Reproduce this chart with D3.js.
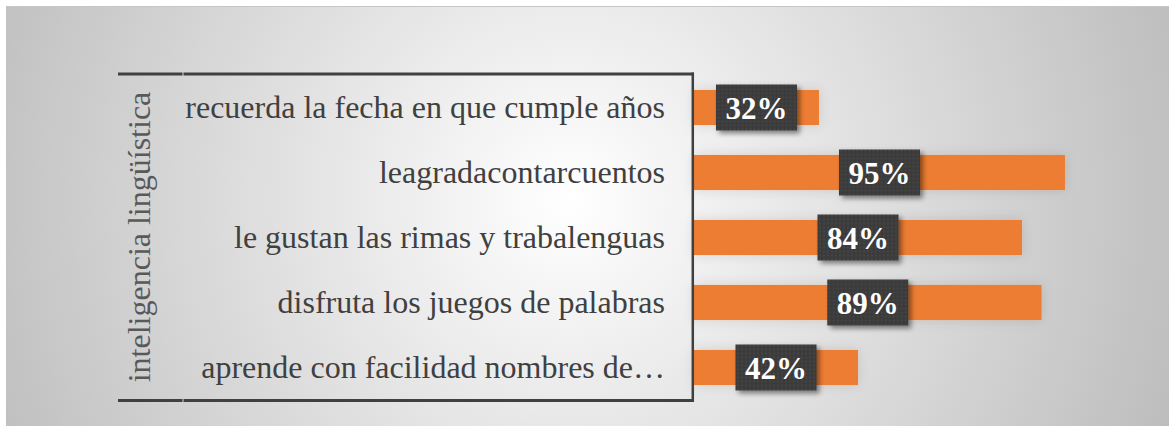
<!DOCTYPE html>
<html>
<head>
<meta charset="utf-8">
<script src="https://cdn.jsdelivr.net/npm/d3@7"></script>
<style>
  body { margin: 0; background: #ffffff; }
  svg { display: block; }
</style>
</head>
<body>
<div id="chart"></div>
<script>
// Chart data
let categories = [
  "recuerda la fecha en que cumple años",
  "leagradacontarcuentos",
  "le gustan las rimas y trabalenguas",
  "disfruta los juegos de palabras",
  "aprende con facilidad nombres de…"
];
let values = [0.32, 0.95, 0.84, 0.89, 0.42];
let groupLabel = "inteligencia lingüística";

// SVG area
let svgWidth = 1169;
let svgHeight = 426;

let svg = d3.select("#chart")
  .append("svg")
  .attr("width", svgWidth)
  .attr("height", svgHeight);

let defs = svg.append("defs");

// Background gradient
let bg = defs.append("radialGradient")
  .attr("id", "bgGrad")
  .attr("gradientUnits", "userSpaceOnUse")
  .attr("cx", 570).attr("cy", 200).attr("r", 640);
bg.append("stop").attr("offset", "0%").attr("stop-color", "#ffffff");
bg.append("stop").attr("offset", "100%").attr("stop-color", "#bdbdbd");

// Soft halo around bars
let halo = defs.append("filter")
  .attr("id", "halo")
  .attr("x", "-20%").attr("y", "-60%")
  .attr("width", "140%").attr("height", "220%");
halo.append("feDropShadow")
  .attr("dx", 0).attr("dy", 0)
  .attr("stdDeviation", 6)
  .attr("flood-color", "#000")
  .attr("flood-opacity", 0.12);

// Shadow under the label boxes
let boxShadow = defs.append("filter")
  .attr("id", "boxShadow")
  .attr("x", "-20%").attr("y", "-20%")
  .attr("width", "150%").attr("height", "160%");
boxShadow.append("feDropShadow")
  .attr("dx", 3).attr("dy", 3)
  .attr("stdDeviation", 2.5)
  .attr("flood-color", "#000")
  .attr("flood-opacity", 0.45);

// Dotted texture of the label boxes
let dots = defs.append("pattern")
  .attr("id", "dots")
  .attr("patternUnits", "userSpaceOnUse")
  .attr("width", 4).attr("height", 4);
dots.append("rect").attr("width", 4).attr("height", 4).attr("fill", "#3a3a3a");
dots.append("circle").attr("cx", 2).attr("cy", 2).attr("r", 0.7).attr("fill", "#555555");

// Chart background
svg.append("rect")
  .attr("x", 6).attr("y", 6)
  .attr("width", svgWidth - 6).attr("height", svgHeight - 6)
  .attr("fill", "url(#bgGrad)");
svg.append("line")
  .attr("x1", 6).attr("x2", svgWidth)
  .attr("y1", 6.5).attr("y2", 6.5)
  .attr("stroke", "#c6c6c6").attr("stroke-width", 1);

// Scales
let xScale = d3.scaleLinear()
  .domain([0, 1])
  .range([694, 1084.5]);

let yScale = d3.scaleBand()
  .domain(categories)
  .range([75, 400])
  .paddingInner(0.46)
  .paddingOuter(0.23);

// Bars
svg.append("g")
  .selectAll("rect")
  .data(values)
  .enter()
  .append("rect")
  .attr("x", xScale(0))
  .attr("y", (d, i) => yScale(categories[i]))
  .attr("width", (d) => xScale(d) - xScale(0))
  .attr("height", yScale.bandwidth())
  .attr("fill", "#ed7d31")
  .attr("filter", "url(#halo)");

// Category labels
let yAxis = svg.append("g")
  .attr("transform", "translate(665,0)")
  .call(d3.axisLeft(yScale).tickSize(0).tickPadding(0));
yAxis.select(".domain").remove();
yAxis.selectAll("text")
  .attr("font-family", "'Liberation Serif', 'Times New Roman', serif")
  .attr("font-size", 32)
  .attr("fill", "#404040")
  .attr("dy", "0.34em");

// Group label
svg.append("text")
  .attr("transform", `translate(150, ${(74 + 400) / 2}) rotate(-90)`)
  .attr("text-anchor", "middle")
  .attr("font-family", "'Liberation Serif', 'Times New Roman', serif")
  .attr("font-size", 32)
  .attr("fill", "#595959")
  .text(groupLabel);

// Axis frame lines
let frame = svg.append("g")
  .attr("stroke", "#404040")
  .attr("stroke-width", 3)
  .attr("fill", "none");
[74, 400.5].forEach((y) => {
  frame.append("line").attr("x1", 118).attr("x2", 182.5).attr("y1", y).attr("y2", y);
  frame.append("line").attr("x1", 183.5).attr("x2", 694).attr("y1", y).attr("y2", y);
});
frame.append("line")
  .attr("x1", 692.8).attr("x2", 692.8)
  .attr("y1", 72.5).attr("y2", 402)
  .attr("stroke-width", 2.5);

// Value labels
let labels = svg.append("g")
  .selectAll("g")
  .data(values)
  .enter()
  .append("g")
  .attr("transform", (d, i) =>
    `translate(${(xScale(0) + xScale(d)) / 2}, ${yScale(categories[i]) + yScale.bandwidth() / 2})`);

labels.append("rect")
  .attr("x", -40.5).attr("y", -23)
  .attr("width", 81).attr("height", 46)
  .attr("fill", "url(#dots)")
  .attr("filter", "url(#boxShadow)");

labels.append("text")
  .attr("text-anchor", "middle")
  .attr("y", 11.5)
  .attr("font-family", "'Liberation Serif', 'Times New Roman', serif")
  .attr("font-weight", "bold")
  .attr("font-size", 31)
  .attr("fill", "#ffffff")
  .text((d) => `${Math.round(d * 100)}%`);
</script>
</body>
</html>
